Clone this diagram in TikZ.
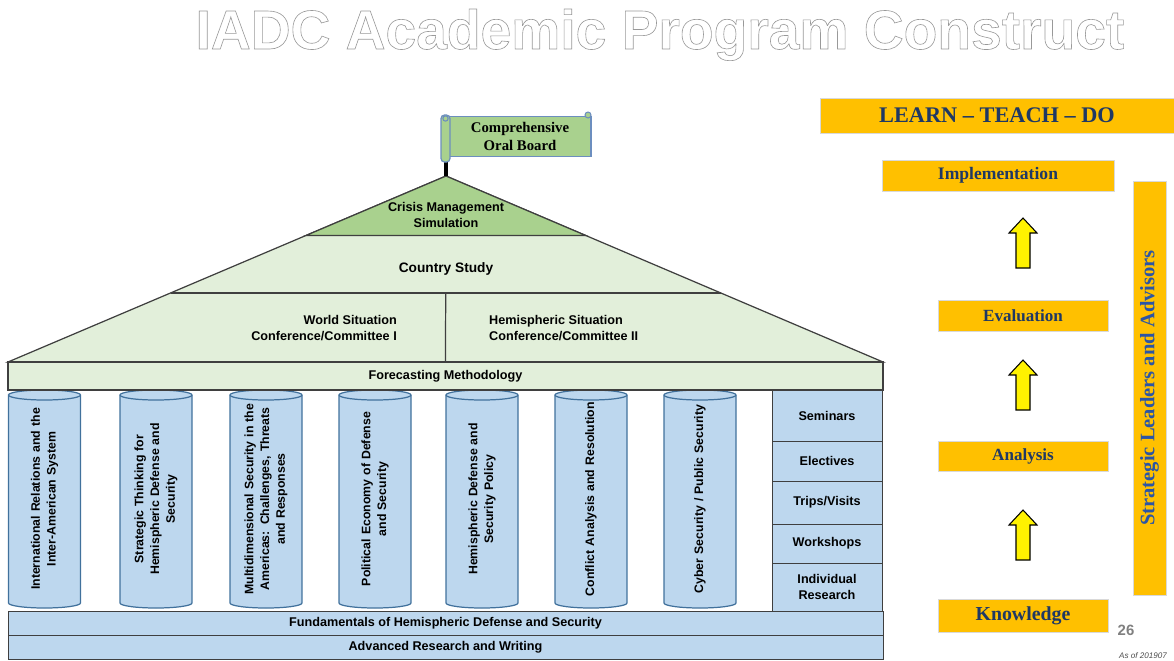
\documentclass[tikz,border=0pt]{standalone}
\usepackage{fontspec}
\setmainfont{Liberation Serif}
\setsansfont{Liberation Sans}
\usetikzlibrary{calc,backgrounds}

\definecolor{pillarfill}{HTML}{BDD7EE}
\definecolor{pillaredge}{HTML}{41719C}
\definecolor{roofgreen}{HTML}{E2EFDA}
\definecolor{peakgreen}{HTML}{A9D18E}
\definecolor{bannerblue}{HTML}{6C8EBF}
\definecolor{ltdgold}{HTML}{FFC000}
\definecolor{ltdnavy}{HTML}{1F3864}
\definecolor{advblue}{HTML}{2B55A5}
\definecolor{edgegray}{HTML}{3F3F3F}

\newcommand{\sanslabel}{\sffamily\bfseries\fontsize{7.2}{9}\selectfont}
\newcommand{\seriflabel}[1]{\rmfamily\bfseries\fontsize{#1}{#1}\selectfont}

\begin{document}
\begin{tikzpicture}[y=-.02cm, x=.02cm, font=\sanslabel,
  pillar/.style={rotate=90, minimum width=4.36cm, minimum height=1.44cm, inner sep=0pt, text width=4.3cm, align=center, font=\sffamily\bfseries\fontsize{7}{9}\selectfont},
  layer/.style={draw=edgegray, fill=pillarfill, minimum width=17.5cm, inner sep=0pt},
  sidebox/.style={draw=edgegray, fill=pillarfill, minimum width=2.2cm, inner sep=0pt, align=center},
  goldbox/.style={draw=black!15, fill=ltdgold, text=ltdnavy, inner sep=0pt}]
\useasboundingbox (0,0) rectangle (1174,660);

\node[anchor=base, text=white, font=\sffamily\bfseries\fontsize{31.4}{31.4}\selectfont] (title) at (660,49) {\special{pdf:literal direct 0.6 G 0.35 w 2 Tr}IADC Academic Program Construct\special{pdf:literal direct 0 Tr}};

% roof
\coordinate (apex) at (446,176);
\coordinate (baseL) at (8,362);
\coordinate (baseR) at (883,362);
\coordinate (crisisL) at ($(apex)!.32!(baseL)$);
\coordinate (crisisR) at ($(apex)!.32!(baseR)$);
\coordinate (countryL) at ($(apex)!.629!(baseL)$);
\coordinate (countryR) at ($(apex)!.629!(baseR)$);
\coordinate (splitT) at ($(countryL)!.5!(countryR)$);
\coordinate (splitB) at ($(baseL)!.5!(baseR)$);
\filldraw[fill=roofgreen, draw=edgegray, line width=.7pt] (apex) -- (baseL) -- (baseR) -- cycle;
\filldraw[fill=peakgreen, draw=edgegray, line width=.7pt] (apex) -- (crisisL) -- (crisisR) -- cycle;
\draw[edgegray, line width=.7pt] (countryL) -- (countryR);
\draw[edgegray, line width=.7pt] (splitT) -- (splitB);

\node[align=center] (crisis) at (446,215) {Crisis Management\\Simulation};
\node[font=\sffamily\bfseries\fontsize{7.8}{9}\selectfont] (country) at (446,269) {Country Study};
\node[align=right, anchor=east] (world) at (403,328) {World Situation\\Conference/Committee I};
\node[align=left, anchor=west] (hemi) at (483,328) {Hemispheric Situation\\Conference/Committee II};

% flag
\coordinate (poletop) at (446,160);
\draw[line width=2.8pt] (poletop) -- (apex);
\node[draw=bannerblue, fill=peakgreen, line width=.7pt, minimum width=2.84cm, minimum height=.78cm, align=center, font=\rmfamily\bfseries\fontsize{8.4}{10}\selectfont] (board) at (520,136.5) {Comprehensive\\Oral Board};
\filldraw[fill=peakgreen, draw=bannerblue, line width=.7pt, rounded corners=2pt] (441,115) rectangle (450,162);
\filldraw[fill=peakgreen, draw=bannerblue, line width=.6pt] (445.5,118.5) circle (1.5pt);
\filldraw[fill=peakgreen, draw=bannerblue, line width=.6pt] (588,115) circle (1.7pt);

\node[layer, fill=roofgreen, line width=.7pt, minimum height=.56cm] (forecast) at (445.5,376) {Forecasting Methodology};

% pillars
\node[pillar] (irs) at (44.5,499) {International Relations and the\\Inter-American System};
\node[pillar] (stt) at (156,499) {Strategic Thinking for\\Hemispheric Defense and\\Security};
\node[pillar] (mds) at (266,499) {Multidimensional Security in the\\Americas: Challenges, Threats\\and Responses};
\node[pillar] (ped) at (375,499) {Political Economy of Defense\\and Security};
\node[pillar] (hdp) at (482,499) {Hemispheric Defense and\\Security Policy};
\node[pillar] (car) at (591,499) {Conflict Analysis and Resolution};
\node[pillar] (cps) at (700,499) {Cyber Security / Public Security};

\begin{scope}[on background layer]
\foreach \p in {irs,stt,mds,ped,hdp,car,cps}{
  \filldraw[fill=pillarfill, draw=pillaredge, line width=.7pt] ($(\p.center)+(-36,-104)$) -- ($(\p.center)+(-36,104)$)
    arc[start angle=180, end angle=360, x radius=.72cm, y radius=.1cm] -- ($(\p.center)+(36,-104)$)
    arc[start angle=0, end angle=180, x radius=.72cm, y radius=.1cm] -- cycle;
  \draw[pillaredge, line width=.7pt] ($(\p.center)+(-36,-104)$) arc[start angle=180, end angle=360, x radius=.72cm, y radius=.1cm];
}
\end{scope}

\node[sidebox, minimum height=1.02cm] (seminars) at (827,415.5) {Seminars};
\node[sidebox, minimum height=.8cm] (electives) at (827,461) {Electives};
\node[sidebox, minimum height=.86cm] (trips) at (827,502.5) {Trips/Visits};
\node[sidebox, minimum height=.78cm] (workshops) at (827,543.5) {Workshops};
\node[sidebox, minimum height=.96cm] (research) at (827,587) {Individual\\Research};

\node[layer, minimum height=.48cm] (fund) at (445.5,623) {Fundamentals of Hemispheric Defense and Security};
\node[layer, minimum height=.48cm] (writing) at (445.5,647) {Advanced Research and Writing};

% learn teach do
\node[goldbox, minimum width=7.08cm, minimum height=.7cm, font=\seriflabel{12.7}] (ltd) at (997,115.5) {LEARN – TEACH – DO};
\node[goldbox, minimum width=4.64cm, minimum height=.62cm, font=\seriflabel{10}] (impl) at (998,175.5) {Implementation};
\node[goldbox, minimum width=3.4cm, minimum height=.62cm, font=\seriflabel{9.7}] (eval) at (1023,315.5) {Evaluation};
\node[goldbox, minimum width=3.4cm, minimum height=.6cm, font=\seriflabel{9.7}] (anal) at (1023,456) {Analysis};
\node[goldbox, minimum width=3.4cm, minimum height=.66cm, font=\seriflabel{11.3}] (know) at (1023,615.5) {Knowledge};
\node[goldbox, rotate=90, text=advblue, minimum width=8.28cm, minimum height=.66cm, font=\seriflabel{11.7}] (leaders) at (1149.5,388) {Strategic Leaders and Advisors};

\coordinate (up1) at (1023,535);
\coordinate (up2) at (1023,385);
\coordinate (up3) at (1023,243);
\foreach \a in {up1,up2,up3}
  \filldraw[fill=yellow, draw=black, line width=.6pt] ($(\a)+(-7,25)$) -- ($(\a)+(-7,-10)$) -- ($(\a)+(-14,-10)$) -- ($(\a)+(0,-25)$)
    -- ($(\a)+(14,-10)$) -- ($(\a)+(7,-10)$) -- ($(\a)+(7,25)$) -- cycle;

\node[text=black!50, font=\sffamily\bfseries\fontsize{8.5}{8.5}\selectfont] (pageno) at (1126,630) {26};
\node[anchor=east, text=black!70, font=\sffamily\itshape\fontsize{4.6}{5}\selectfont] (asof) at (1173,656) {As of 201907};
\end{tikzpicture}
\end{document}
